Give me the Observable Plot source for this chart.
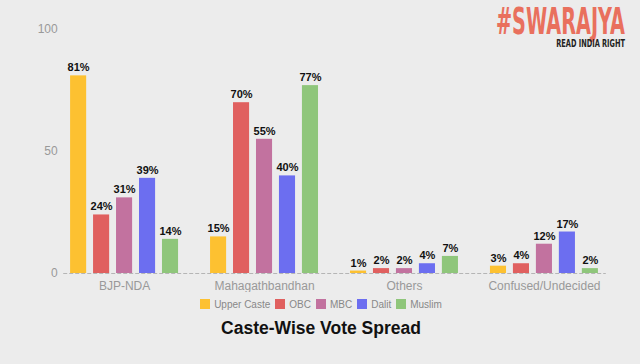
<!DOCTYPE html>
<html>
<head>
<meta charset="utf-8">
<script src="https://cdn.jsdelivr.net/npm/d3@7"></script>
<script src="https://cdn.jsdelivr.net/npm/@observablehq/plot@0.6"></script>
<style>
  html, body { margin: 0; padding: 0; background: #ececec; }
  body { width: 640px; height: 364px; position: relative; overflow: hidden; font-family: "Liberation Sans", Arial, sans-serif; }
  #chart { position: absolute; left: 0; top: 0; }
  #logo { position: absolute; left: 0; top: 0; }
  #legend { position: absolute; left: 0; width: 642px; top: 299px; text-align: center; font-size: 10px; color: #888; }
  #legend span.item { margin: 0 2.5px; white-space: nowrap; }
  #legend span.sw { display: inline-block; width: 10px; height: 10px; vertical-align: -1px; margin-right: 4px; }
  #title { position: absolute; left: 0; width: 642px; top: 318px; text-align: center; font-size: 17.5px; font-weight: bold; color: #111; }
</style>
</head>
<body>
<div id="chart"></div>
<svg id="logo" width="640" height="52">
  <g transform="translate(625,34) scale(0.52,1)">
    <text text-anchor="end" font-family="DejaVu Sans, sans-serif" font-weight="bold" font-size="37" fill="#e9705d">#SWARAJYA</text>
  </g>
  <g transform="translate(625,47) scale(0.6,1)">
    <text text-anchor="end" font-family="DejaVu Sans, sans-serif" font-weight="bold" font-size="11" fill="#222">READ INDIA RIGHT</text>
  </g>
</svg>
<div id="legend"></div>
<div id="title">Caste-Wise Vote Spread</div>
<script>
const parties = ["BJP-NDA", "Mahagathbandhan", "Others", "Confused/Undecided"];
const castes = ["Upper Caste", "OBC", "MBC", "Dalit", "Muslim"];
const colors = ["#fdc131", "#e0605f", "#c2729f", "#6c6ef0", "#8fc67b"];
const upperCaste = [81, 15, 1, 3];
const obc = [24, 70, 2, 4];
const mbc = [31, 55, 2, 12];
const dalit = [39, 40, 4, 17];
const muslim = [14, 77, 7, 2];
const yTicks = [0, 50, 100];

const series = [upperCaste, obc, mbc, dalit, muslim];
const data = [];
parties.forEach((p, i) => castes.forEach((c, j) => data.push({party: p, caste: c, value: series[j][i]})));

const plot = Plot.plot({
  width: 640,
  height: 292,
  marginLeft: 45,
  marginRight: 17,
  marginTop: 29,
  marginBottom: 19,
  style: {background: "transparent", fontFamily: "Liberation Sans, Arial, sans-serif"},
  fx: {domain: parties, paddingInner: 0.13, paddingOuter: 0.13, round: false, label: null, axis: "bottom", tickSize: 0, tickPadding: 8},
  x: {domain: castes, paddingInner: 0.3, paddingOuter: 0.3, round: false, axis: null},
  y: {domain: [0, 100], ticks: yTicks, tickSize: 0, tickPadding: 6, label: null},
  color: {domain: castes, range: colors},
  marks: [
    Plot.frame({anchor: "bottom", facet: "super", stroke: "#b5b5b5", strokeDasharray: "3,3"}),
    Plot.barY(data, {fx: "party", x: "caste", y: "value", fill: "caste"}),
    Plot.text(data, {fx: "party", x: "caste", y: "value", text: d => d.value + "%", dy: -8, fontWeight: "bold", fontSize: 11, fill: "#111"})
  ]
});
plot.querySelectorAll('[aria-label="y-axis tick label"], [aria-label="fx-axis tick label"]').forEach(g => { g.setAttribute("fill", "#999"); g.setAttribute("font-size", "12"); });
document.getElementById("chart").appendChild(plot);

const legend = document.getElementById("legend");
castes.forEach((c, j) => {
  const it = document.createElement("span");
  it.className = "item";
  it.innerHTML = `<span class="sw" style="background:${colors[j]}"></span>${c}`;
  legend.appendChild(it);
});
</script>
</body>
</html>
